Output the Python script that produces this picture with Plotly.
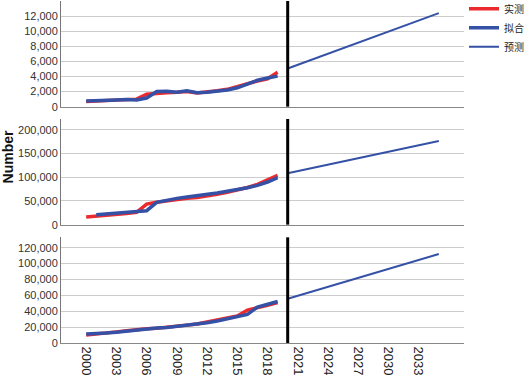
import plotly.graph_objects as go

years_obs = list(range(2000, 2020))
years_fit2 = list(range(2001, 2020))
years_fc = list(range(2020, 2036))

# Panel 1
p1_actual = [700, 750, 800, 850, 900, 1000, 1650, 1800, 1850, 1900, 2000, 1800, 1900, 2100, 2300, 2700, 3100, 3400, 3700, 4550]
p1_fit = [750, 760, 800, 880, 950, 900, 1150, 2000, 2050, 1900, 2100, 1850, 1900, 2000, 2200, 2500, 3000, 3500, 3800, 4050]
p1_fc = [5060, 5550, 6040, 6530, 7020, 7510, 8000, 8490, 8980, 9470, 9960, 10450, 10940, 11430, 11920, 12390]

# Panel 2
p2_actual = [16000, 17500, 19500, 21500, 23500, 26000, 43500, 47500, 50500, 53000, 55500, 57500, 60000, 64000, 68500, 73000, 78500, 85000, 94000, 104000]
p2_fit = [21000, 22500, 24500, 26000, 27500, 29500, 47000, 52000, 55500, 58500, 61000, 63500, 67000, 70500, 74000, 78000, 83000, 90000, 99000]
p2_fc = [108400, 112950, 117500, 122050, 126600, 131150, 135700, 140250, 144800, 149350, 153900, 158450, 163000, 167550, 172100, 176600]

# Panel 3
p3_actual = [10000, 11000, 12500, 14000, 15500, 17000, 18000, 18500, 19500, 21000, 22500, 24000, 26500, 28500, 31000, 34000, 41500, 44000, 47500, 51000]
p3_fit = [11300, 11500, 12500, 13500, 15000, 16500, 18000, 18800, 19500, 20800, 22300, 23800, 25500, 27800, 30500, 33500, 36000, 45300, 48500, 52300]
p3_fc = [55700, 59450, 63200, 66950, 70700, 74450, 78200, 81950, 85700, 89450, 93200, 96950, 100700, 104450, 108200, 112000]

x_ticks = [2000, 2003, 2006, 2009, 2012, 2015, 2018, 2021, 2024, 2027, 2030, 2033]
y_ticks1 = [0, 2000, 4000, 6000, 8000, 10000, 12000]
y_ticks2 = [0, 50000, 100000, 150000, 200000]
y_ticks3 = [0, 20000, 40000, 60000, 80000, 100000, 120000]
y_ranges = [[0, 14000], [0, 223000], [0, 133000]]
split_year = 2020

RED = "#EC2A2E"
BLUE = "#3551A6"

fig = go.Figure()

panels = [
    (years_obs, p1_actual, years_obs, p1_fit, p1_fc, "x", "y"),
    (years_obs, p2_actual, years_fit2, p2_fit, p2_fc, "x2", "y2"),
    (years_obs, p3_actual, years_obs, p3_fit, p3_fc, "x3", "y3"),
]
for i, (xa, ya, xf, yf, yfc, xr, yr) in enumerate(panels):
    first = i == 0
    fig.add_trace(go.Scatter(x=xa, y=ya, mode="lines", name="实测", line=dict(color=RED, width=3.5),
                             xaxis=xr, yaxis=yr, showlegend=first, legendgroup="a"))
    fig.add_trace(go.Scatter(x=xf, y=yf, mode="lines", name="拟合", line=dict(color=BLUE, width=3.5),
                             xaxis=xr, yaxis=yr, showlegend=first, legendgroup="b"))
    fig.add_trace(go.Scatter(x=years_fc, y=yfc, mode="lines", name="预测", line=dict(color=BLUE, width=2),
                             xaxis=xr, yaxis=yr, showlegend=first, legendgroup="c"))

domains = [[0.691, 1.0], [0.346, 0.655], [0.0, 0.309]]
yticks = [y_ticks1, y_ticks2, y_ticks3]
tickfont = dict(family="Liberation Sans, Arial", size=11, color="#333333")

layout = dict(
    width=529, height=378,
    margin=dict(l=61, r=65, t=1, b=35, autoexpand=False),
    paper_bgcolor="white", plot_bgcolor="white",
    font=dict(family="Liberation Sans, Arial", size=11, color="#333333"),
    legend=dict(x=1.0, y=1.02, xanchor="left", yanchor="top",
                font=dict(family="Noto Sans CJK SC", size=10, color="#222222"),
                bgcolor="rgba(0,0,0,0)", tracegroupgap=0, itemwidth=30),
    showlegend=True,
)
for i in range(3):
    xk = "xaxis" if i == 0 else f"xaxis{i+1}"
    yk = "yaxis" if i == 0 else f"yaxis{i+1}"
    layout[xk] = dict(
        range=[1997.5, 2037.5], domain=[0, 1], anchor="y" if i == 0 else f"y{i+1}",
        tickvals=x_ticks, ticktext=[str(v) for v in x_ticks],
        showticklabels=(i == 2), tickangle=90,
        tickfont=dict(family="Liberation Sans, Arial", size=13, color="#222222"),
        showgrid=False, zeroline=False, showline=True, linecolor="#888888", linewidth=1,
        ticks="",
    )
    if i > 0:
        layout[xk]["matches"] = "x"
    layout[yk] = dict(
        range=y_ranges[i], domain=domains[i], anchor="x" if i == 0 else f"x{i+1}",
        tickvals=yticks[i], tickformat=",d", tickfont=tickfont,
        showgrid=True, gridcolor="#CCCCCC", gridwidth=1, zeroline=False,
        showline=True, linecolor="#777777", linewidth=1, ticks="",
    )
fig.update_layout(**layout)

for i in range(3):
    xr = "x" if i == 0 else f"x{i+1}"
    yr = "y" if i == 0 else f"y{i+1}"
    fig.add_shape(type="line", xref=xr, yref=f"{yr} domain", x0=split_year, x1=split_year, y0=0, y1=1,
                  line=dict(color="black", width=3))

fig.add_annotation(text="<b>Number</b>", xref="paper", yref="paper", x=-0.132, y=0.545,
                   xanchor="center", yanchor="middle",
                   showarrow=False, textangle=-90, font=dict(family="Liberation Sans, Arial", size=14, color="#111111"))

fig.write_html("out.html", config={"displayModeBar": False},
               post_script="document.body.style.margin='0';document.body.style.overflow='hidden';")
